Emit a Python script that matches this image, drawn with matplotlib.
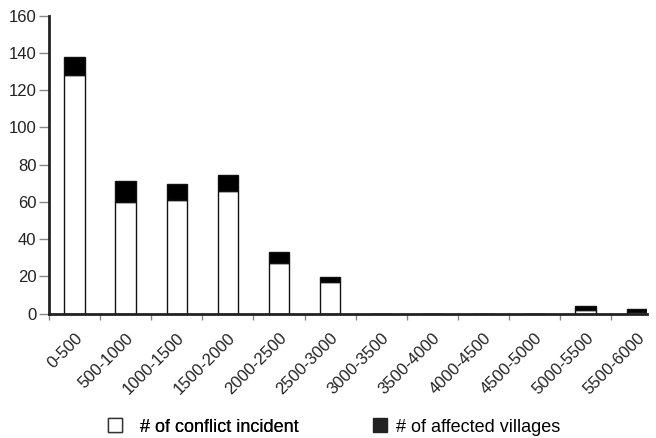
import matplotlib
matplotlib.use("Agg")
import matplotlib.pyplot as plt
from matplotlib.patches import Patch
import numpy as np

categories = ["0-500", "500-1000", "1000-1500", "1500-2000", "2000-2500", "2500-3000",
              "3000-3500", "3500-4000", "4000-4500", "4500-5000", "5000-5500", "5500-6000"]
conflict_incidents = [128, 60, 61, 66, 27, 17, 0, 0, 0, 0, 2, 1]
affected_villages = [10, 11.5, 8.5, 8.5, 6, 2.5, 0, 0, 0, 0, 2, 1.5]
y_ticks = [0, 20, 40, 60, 80, 100, 120, 140, 160]
series_names = ['# of conflict incident', '# of affected villages']

plt.rcParams['font.family'] = ['Liberation Sans', 'DejaVu Sans']

W, H = 656, 438
fig = plt.figure(figsize=(W / 100, H / 100), dpi=100)
ax = fig.add_axes([0.0747, 0.2838, 0.9116, 0.6803])

x = np.arange(len(categories))
ax.bar(x, conflict_incidents, width=0.4, color='white', edgecolor='#111111', linewidth=1.0,
       label=series_names[0], zorder=2)
ax.bar(x, affected_villages, width=0.4, bottom=conflict_incidents, color='black',
       edgecolor='#111111', linewidth=1.0, label=series_names[1], zorder=2)

ax.set_xlim(-0.5, len(categories) - 1 + 0.2)
ax.set_ylim(0, 160)
ax.set_yticks(y_ticks)
ax.set_yticklabels([str(v) for v in y_ticks], fontsize=12, color='#222222')

ax.set_xticks(x)
ax.set_xticklabels(categories, rotation=45, ha='right', rotation_mode='anchor',
                   fontsize=12, color='#222222')
ax.set_xticks(np.arange(len(categories)) - 0.5, minor=True)
ax.tick_params(axis='x', which='major', length=0, pad=12)
ax.tick_params(axis='x', which='minor', length=4, width=1, color='#888888', direction='out')
ax.tick_params(axis='y', length=7, width=1, color='#888888', pad=2)

for s in ['top', 'right']:
    ax.spines[s].set_visible(False)
for s in ['left', 'bottom']:
    ax.spines[s].set_linewidth(2)
    ax.spines[s].set_color('#222222')

fs = 13
fs_px = fs * 100 / 72
leg1 = fig.legend([Patch(facecolor='white', edgecolor='#333333', linewidth=1)], [series_names[0]],
                  loc='center left', bbox_to_anchor=(107.5 / W, 1 - 427 / H), frameon=False,
                  fontsize=fs, handlelength=14 / fs_px, handleheight=14 / fs_px,
                  handletextpad=18 / fs_px, borderpad=0, borderaxespad=0)
leg2 = fig.legend([Patch(facecolor='#222222', edgecolor='#222222', linewidth=1)], [series_names[1]],
                  loc='center left', bbox_to_anchor=(372.5 / W, 1 - 427 / H), frameon=False,
                  fontsize=fs, handlelength=14 / fs_px, handleheight=14 / fs_px,
                  handletextpad=9 / fs_px, borderpad=0, borderaxespad=0)
fig.add_artist(leg1)

fig.savefig('out.png', dpi=100, facecolor='white')
